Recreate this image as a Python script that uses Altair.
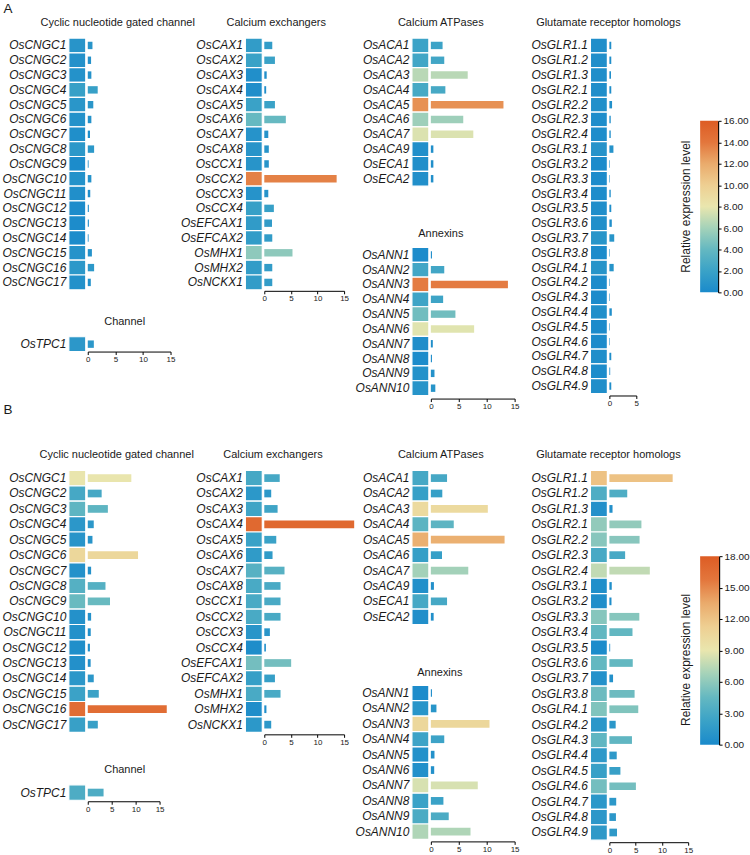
import altair as alt
import pandas as pd

FONT = "Liberation Sans"
NARROW = "Liberation Sans Narrow, Liberation Sans"
TEXT = "#1a1a1a"

# ---------------- gene names ----------------
CNGC = ["OsCNGC1", "OsCNGC2", "OsCNGC3", "OsCNGC4", "OsCNGC5", "OsCNGC6",
        "OsCNGC7", "OsCNGC8", "OsCNGC9", "OsCNGC10", "OsCNGC11", "OsCNGC12",
        "OsCNGC13", "OsCNGC14", "OsCNGC15", "OsCNGC16", "OsCNGC17"]
CHANNEL = ["OsTPC1"]
CAX = ["OsCAX1", "OsCAX2", "OsCAX3", "OsCAX4", "OsCAX5", "OsCAX6", "OsCAX7",
       "OsCAX8", "OsCCX1", "OsCCX2", "OsCCX3", "OsCCX4", "OsEFCAX1",
       "OsEFCAX2", "OsMHX1", "OsMHX2", "OsNCKX1"]
ACA = ["OsACA1", "OsACA2", "OsACA3", "OsACA4", "OsACA5", "OsACA6", "OsACA7",
       "OsACA9", "OsECA1", "OsECA2"]
ANN = ["OsANN1", "OsANN2", "OsANN3", "OsANN4", "OsANN5", "OsANN6", "OsANN7",
       "OsANN8", "OsANN9", "OsANN10"]
GLR = ["OsGLR1.1", "OsGLR1.2", "OsGLR1.3", "OsGLR2.1", "OsGLR2.2", "OsGLR2.3",
       "OsGLR2.4", "OsGLR3.1", "OsGLR3.2", "OsGLR3.3", "OsGLR3.4", "OsGLR3.5",
       "OsGLR3.6", "OsGLR3.7", "OsGLR3.8", "OsGLR4.1", "OsGLR4.2", "OsGLR4.3",
       "OsGLR4.4", "OsGLR4.5", "OsGLR4.6", "OsGLR4.7", "OsGLR4.8", "OsGLR4.9"]

# ---------------- relative expression, panel A ----------------
A_CNGC = [0.85, 0.6, 0.65, 1.8, 1.0, 0.65, 0.4, 1.15, 0.15, 0.65, 0.45, 0.2,
          0.2, 0.15, 0.75, 1.15, 0.55]
A_CHANNEL = [1.1]
A_CAX = [1.5, 2.0, 0.45, 0.35, 2.0, 4.05, 0.75, 0.85, 0.85, 13.6, 0.75, 1.8,
         1.45, 1.5, 5.3, 1.5, 1.5]
A_ACA = [2.1, 2.4, 6.6, 2.6, 13.0, 5.8, 7.6, 0.45, 0.45, 0.45]
A_ANN = [0.2, 2.4, 13.8, 2.2, 4.4, 7.75, 0.35, 0.2, 0.65, 0.8]
A_GLR = [0.35, 0.35, 0.3, 0.35, 0.5, 0.25, 0.25, 0.75, 0.1, 0.1, 0.25, 0.35,
         0.45, 0.9, 0.1, 0.8, 0.1, 0.1, 0.45, 0.1, 0.1, 0.35, 0.15, 0.35]

# ---------------- relative expression, panel B ----------------
B_CNGC = [9.1, 2.9, 4.2, 1.25, 0.98, 10.5, 0.7, 3.7, 4.65, 0.7, 0.62, 0.45,
          0.6, 1.25, 2.3, 16.5, 2.1]
B_CHANNEL = [3.3]
B_CAX = [2.9, 1.3, 2.5, 16.9, 2.25, 1.55, 3.8, 3.05, 3.05, 3.05, 1.05, 0.3,
         5.05, 2.0, 3.05, 0.4, 1.3]
B_ACA = [2.9, 2.05, 10.2, 4.1, 13.2, 2.0, 6.7, 0.55, 2.9, 0.5]
B_ANN = [0.2, 1.0, 10.5, 2.4, 0.65, 0.6, 8.4, 2.25, 3.2, 7.1]
B_GLR = [12.05, 3.4, 0.6, 6.1, 5.75, 3.0, 7.7, 0.45, 0.4, 5.7, 4.4, 0.15,
         4.45, 0.7, 4.8, 5.5, 1.2, 4.3, 1.4, 2.1, 5.05, 1.3, 1.25, 1.45]

# ---------------- axis ticks / colour-bar ticks ----------------
BAR_TICKS = [0, 5, 10, 15]
BAR_TICKS_SHORT = [0, 5]
LEGEND_A_TICKS = [0, 2, 4, 6, 8, 10, 12, 14, 16]
LEGEND_B_TICKS = [0, 3, 6, 9, 12, 15, 18]

# colour ramp (blue -> pale yellow -> orange), positions as fraction of max
STOP_POS = [0.0, 0.125, 0.25, 0.375, 0.5, 0.625, 0.75, 0.875, 1.0]
STOP_COLORS = ["#1a8acb", "#3aa2c7", "#64b8c1", "#a4d2b9", "#e9e6ae",
               "#eecf92", "#eaab6c", "#e3763c", "#dd5c24"]

# ---------------- layout (pixels inside each grid cell) ----------------
HEAT_W = 17          # heat-map cell column
BAR_X0 = 19          # where the bar axis starts
COL_W = [177, 167, 179, 110]
SA, SB = 14.85, 15.45  # row pitch of panels A and B


def color_enc(cmax):
    return alt.Color(
        "value:Q",
        scale=alt.Scale(domain=[cmax * p for p in STOP_POS], range=STOP_COLORS,
                        interpolate="rgb"),
        legend=None,
    )


def label(text, x, y, size=11):
    return (
        alt.Chart(pd.DataFrame({"t": [text]}))
        .mark_text(align="center", baseline="middle", font=FONT,
                   fontSize=size, color=TEXT)
        .encode(text="t:N", x=alt.value(x), y=alt.value(y))
    )


def gene_block(genes, values, cmax, y0, step, bar_w, xmax, ticks,
               axis_offset=2):
    """Heat-map cells, gene labels and bars for one gene family."""
    df = pd.DataFrame({"gene": genes, "value": values,
                       "col": ["c"] * len(genes)})
    y_rng = [y0, y0 + step * len(genes)]
    heat = (
        alt.Chart(df)
        .mark_rect(stroke="white", strokeWidth=1.2)
        .encode(
            x=alt.X("col:N", axis=None,
                    scale=alt.Scale(range=[0, HEAT_W], paddingInner=0,
                                    paddingOuter=0)),
            y=alt.Y("gene:N", title=None,
                    scale=alt.Scale(domain=genes, range=y_rng,
                                    paddingInner=0, paddingOuter=0),
                    axis=alt.Axis(orient="left", domain=False, ticks=False,
                                  labelFontSize=12, labelFontStyle="italic",
                                  labelPadding=3, labelColor=TEXT,
                                  labelFont=FONT, labelLimit=0)),
            color=color_enc(cmax),
        )
    )
    if ticks:
        x_axis = alt.Axis(orient="bottom", values=ticks, title=None,
                          grid=False, labelAngle=0, labelFontSize=8,
                          labelColor=TEXT, labelFont=FONT, labelPadding=1,
                          labelFlush=False, domainColor="black",
                          tickColor="black", tickSize=3, offset=axis_offset)
    else:
        x_axis = None
    bar = (
        alt.Chart(df)
        .mark_bar()
        .encode(
            x=alt.X("value:Q", axis=x_axis,
                    scale=alt.Scale(domain=[0, xmax],
                                    range=[BAR_X0, BAR_X0 + bar_w],
                                    nice=False)),
            y=alt.Y("gene:N", axis=None,
                    scale=alt.Scale(domain=genes, range=y_rng,
                                    paddingInner=0.5, paddingOuter=0.25)),
            color=color_enc(cmax),
        )
    )
    return [heat, bar]


def unit(layers, width, height):
    return (
        alt.layer(*layers)
        .resolve_scale(x="independent", y="independent")
        .properties(width=width, height=height)
    )


def colour_bar(cmax, ticks, width, y_top, y_bottom, title_y):
    df = pd.DataFrame({"lo": [0], "hi": [cmax]})
    grad = alt.LinearGradient(
        gradient="linear",
        stops=[alt.GradientStop(color=c, offset=p)
               for p, c in zip(STOP_POS, STOP_COLORS)],
        x1=0, x2=0, y1=1, y2=0,
    )
    rect = (
        alt.Chart(df)
        .mark_rect(fill=grad)
        .encode(
            y=alt.Y("lo:Q",
                    scale=alt.Scale(domain=[0, cmax], range=[y_bottom, y_top],
                                    nice=False),
                    axis=alt.Axis(orient="right", values=ticks, format=".2f",
                                  title=None, grid=False, labelFontSize=10,
                                  labelColor=TEXT, labelFont=NARROW,
                                  labelPadding=2, domainColor="black",
                                  domainWidth=1.2, tickColor="black",
                                  tickSize=3)),
            y2="hi:Q",
        )
    )
    title = (
        alt.Chart(pd.DataFrame({"t": ["Relative expression level"]}))
        .mark_text(angle=270, align="center", baseline="middle", font=FONT,
                   fontSize=12, color=TEXT)
        .encode(text="t:N", x=alt.value(-14), y=alt.value(title_y))
    )
    return alt.layer(rect, title).properties(width=width, height=y_bottom)


# ---------------- panel A (cell tops at the first gene row) ----------------
a1 = unit(
    gene_block(CNGC, A_CNGC, 16, 0, SA, 83, 15, None)
    + gene_block(CHANNEL, A_CHANNEL, 16, 299.5, SA, 83, 15, BAR_TICKS, 0)
    + [label("A", -61, -29.25, 13.5),
       label("Cyclic nucleotide gated channel", 49, -15),
       label("Channel", 56, 284.7)],
    COL_W[0], 299.5 + SA)
a2 = unit(
    gene_block(CAX, A_CAX, 16, 0, SA, 80, 15, BAR_TICKS, 1)
    + [label("Calcium exchangers", 31, -15)],
    COL_W[1], SA * len(CAX))
a3 = unit(
    gene_block(ACA, A_ACA, 16, 0, SA, 84, 15, None)
    + gene_block(ANN, A_ANN, 16, 210, SA, 84, 15, BAR_TICKS, 3)
    + [label("Calcium ATPases", 29, -15), label("Annexins", 29, 196)],
    COL_W[2], 210 + SA * len(ANN))
a4 = unit(
    gene_block(GLR, A_GLR, 16, 0, SA, 27, 5, BAR_TICKS_SHORT, 2)
    + [label("Glutamate receptor homologs", 18, -15)],
    COL_W[3], SA * len(GLR))
a5 = colour_bar(16, LEGEND_A_TICKS, 18, 83, 255, 169)

# ---------------- panel B ----------------
b1 = unit(
    gene_block(CNGC, B_CNGC, 18, 0, SB, 72, 15, None)
    + gene_block(CHANNEL, B_CHANNEL, 18, 315.3, SB, 72, 15, BAR_TICKS, 1)
    + [label("B", -61, -61, 13.5),
       label("Cyclic nucleotide gated channel", 48, -15),
       label("Channel", 56, 300)],
    COL_W[0], 315.3 + SB)
b2 = unit(
    gene_block(CAX, B_CAX, 18, 0, SB, 80, 15, BAR_TICKS, 2)
    + [label("Calcium exchangers", 27.7, -15)],
    COL_W[1], SB * len(CAX))
b3 = unit(
    gene_block(ACA, B_ACA, 18, 0, SB, 84, 15, None)
    + gene_block(ANN, B_ANN, 18, 215.5, SB, 84, 15, BAR_TICKS, 2)
    + [label("Calcium ATPases", 29, -15), label("Annexins", 28, 203)],
    COL_W[2], 215.5 + SB * len(ANN))
b4 = unit(
    gene_block(GLR, B_GLR, 18, 0, SB, 79, 15, BAR_TICKS, 2)
    + [label("Glutamate receptor homologs", 18, -15)],
    COL_W[3], SB * len(GLR))
b5 = colour_bar(18, LEGEND_B_TICKS, 19, 86, 275, 190)

chart = (
    alt.concat(a1, a2, a3, a4, a5, b1, b2, b3, b4, b5, columns=5,
               spacing={"row": 74.5, "column": 0}, bounds="flush",
               align="each")
    .resolve_scale(color="independent")
    .properties(padding={"left": 1, "top": 0, "right": 0, "bottom": 0},
                background="white")
    .configure_view(stroke=None)
)

chart.save("out.html", embed_options={"renderer": "svg", "actions": False})
